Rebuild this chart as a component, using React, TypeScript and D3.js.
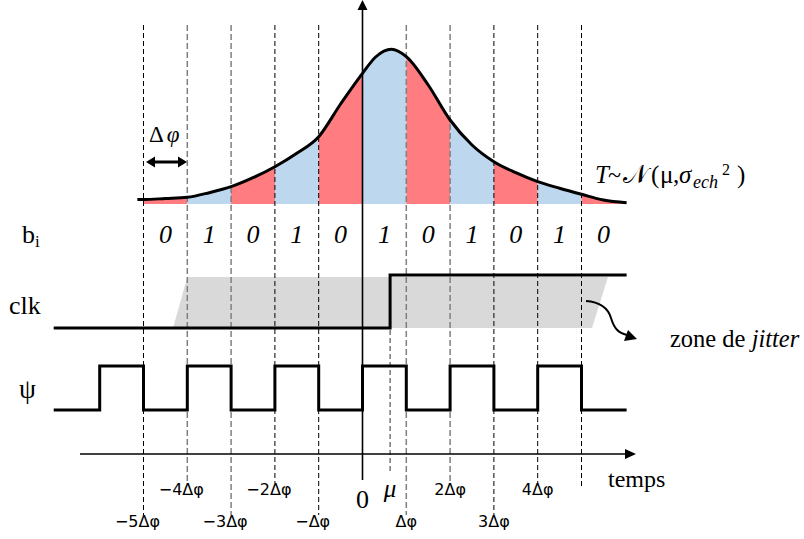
import React from 'react';
import * as d3 from 'd3';

// Density curve samples (t in units of Δφ, h = relative density height)
const densityT = [-5.14, -5, -4.5, -4, -3.5, -3, -2.5, -2, -1.5, -1, -0.5, 0, 0.3, 0.66, 1, 1.5, 2, 2.5, 3, 3.5, 4, 4.5, 5, 5.5, 6.03];
const densityH = [4.5, 4.5, 5.5, 6.7, 11.3, 17.3, 26.3, 37.3, 50.7, 67.3, 100, 130.7, 147, 154.7, 147.3, 119, 84, 59, 42.3, 31.3, 22.3, 15.7, 9.7, 4, 1.3];
// bits b_i per interval
const bitStarts = [-5, -4, -3, -2, -1, 0, 1, 2, 3, 4, 5];
const bits = [0, 1, 0, 1, 0, 1, 0, 1, 0, 1, 0];
// tick marks on the time axis
const tickKs = [-5, -4, -3, -2, -1, 1, 2, 3, 4, 5];
const tickLabels = ['−5Δφ', '−4Δφ', '−3Δφ', '−2Δφ', '−Δφ', 'Δφ', '2Δφ', '3Δφ', '4Δφ', ''];
// ψ signal
const psiT = [-7.05, -6, -5, -4, -3, -2, -1, 0, 1, 2, 3, 4, 5, 6.03];
const psiLevel = [0, 1, 0, 1, 0, 1, 0, 1, 0, 1, 0, 1, 0, 0];
// clk signal
const clkT = [-7.05, 0.63, 6.03];
const clkLevel = [0, 1, 1];
const mu = 0.63;
const tEnd = 6.03;

const RED = '#FF7C80';
const BLUE = '#BDD7EE';
const grayKs = [-4, -3, 1, 2];

export default function App() {
  const x = d3.scaleLinear().domain([-5, 5]).range([143.5, 581.5]);
  const base = 204;
  const y = d3.scaleLinear().domain([0, 155]).range([base, 49]);
  const yClk = d3.scaleLinear().domain([0, 1]).range([328, 275]);
  const yPsi = d3.scaleLinear().domain([0, 1]).range([410, 366]);

  const dens = densityT.map((t, i) => [t, densityH[i]] as [number, number]);
  const area = d3.area<[number, number]>().x(d => x(d[0])).y0(base).y1(d => y(d[1])).curve(d3.curveMonotoneX);
  const line = d3.line<[number, number]>().x(d => x(d[0])).y(d => y(d[1])).curve(d3.curveMonotoneX);
  const psiLine = d3.line<[number, number]>().x(d => x(d[0])).y(d => yPsi(d[1])).curve(d3.curveStepAfter);
  const clkLine = d3.line<[number, number]>().x(d => x(d[0])).y(d => yClk(d[1])).curve(d3.curveStepAfter);

  const x0 = x(0);
  const serif = 'Liberation Serif, Times New Roman, serif';
  const sans = 'DejaVu Sans, sans-serif';

  // jitter zone
  const jz = [[x(-4), 277], [608, 277], [592, 328], [173, 328]];

  return (
    <svg width={804} height={539} style={{ position: 'absolute', left: 0, top: 0, background: '#fff' }}>
      <defs>
        {bitStarts.map((a, i) => {
          const b = Math.min(a + 1, tEnd);
          return (
            <clipPath id={`band${i}`} key={i}>
              <rect x={x(a)} y={0} width={x(b) - x(a)} height={base} />
            </clipPath>
          );
        })}
      </defs>
      {/* bands */}
      {bitStarts.map((a, i) => (
        <path key={i} d={area(dens) || ''} fill={bits[i] ? BLUE : RED} clipPath={`url(#band${i})`} />
      ))}
      {/* jitter zone */}
      <polygon points={jz.map(p => p.join(',')).join(' ')} fill="#D9D9D9" />
      {/* dashed lines */}
      {tickKs.map((k, i) => {
        const gray = grayKs.includes(k);
        const end = tickLabels[i] === '' ? 487 : (Math.abs(k) % 2 === 1 ? 515 : 483);
        return (
          <line key={k} x1={x(k)} x2={x(k)} y1={25} y2={end}
            stroke={gray ? '#7F7F7F' : '#000'} strokeWidth={gray ? 1.5 : 1} strokeDasharray={gray ? '6,3' : '5,3'} />
        );
      })}
      <line x1={x(mu)} x2={x(mu)} y1={330} y2={472} stroke="#555" strokeWidth={1.2} strokeDasharray="5,3" />
      {/* curve */}
      <path d={line(dens) || ''} fill="none" stroke="#000" strokeWidth={3} />
      {/* signals */}
      <path d={clkLine(clkT.map((t, i) => [t, clkLevel[i]] as [number, number])) || ''} fill="none" stroke="#000" strokeWidth={3} />
      <path d={psiLine(psiT.map((t, i) => [t, psiLevel[i]] as [number, number])) || ''} fill="none" stroke="#000" strokeWidth={3} />
      {/* vertical axis */}
      <line x1={x0} x2={x0} y1={8} y2={480} stroke="#000" strokeWidth={1.6} />
      <polygon points={`${x0},0 ${x0 - 5},10 ${x0 + 5},10`} fill="#000" />
      {/* time axis */}
      <line x1={80} x2={627} y1={454} y2={454} stroke="#000" strokeWidth={1.6} />
      <polygon points={`636,454 625,449 625,459`} fill="#000" />
      {/* Δφ arrow */}
      <line x1={152} x2={181} y1={162} y2={162} stroke="#000" strokeWidth={3} />
      <polygon points={`146,162 155,156.5 155,167.5`} fill="#000" />
      <polygon points={`187,162 178,156.5 178,167.5`} fill="#000" />
      <text x={149} y={142} fontFamily={serif} fontSize={23}>Δ<tspan dx={3} fontStyle="italic">φ</tspan></text>
      {/* formula */}
      <g fontFamily={serif}>
        <text x={595} y={183} fontSize={25} fontStyle="italic">T</text>
        <text x={608} y={183} fontSize={25} textLength={13} lengthAdjust="spacingAndGlyphs">~</text>
        <text x={623} y={183} fontSize={26}>𝒩</text>
        <text x={651} y={183} fontSize={25}>(</text>
        <text x={660} y={183} fontSize={25}>μ</text>
        <text x={673} y={183} fontSize={25}>,</text>
        <text x={679} y={183} fontSize={25} fontStyle="italic">σ</text>
        <text x={693} y={188} fontSize={18} fontStyle="italic">ech</text>
        <text x={722} y={175} fontSize={16}>2</text>
        <text x={737} y={183} fontSize={25}>)</text>
      </g>
      {/* labels */}
      <text x={22} y={243} fontFamily={serif} fontSize={26}>b<tspan fontSize={17} dy={4}>i</tspan></text>
      <text x={9} y={314} fontFamily={serif} fontSize={26}>clk</text>
      <text x={19} y={398} fontFamily={serif} fontSize={27}>ψ</text>
      {bitStarts.map((a, i) => (
        <text key={i} x={x(a + 0.5)} y={243} textAnchor="middle" fontFamily={serif} fontStyle="italic" fontSize={26}>{bits[i]}</text>
      ))}
      <text x={670} y={347} fontFamily={serif} fontSize={24.5}>zone de <tspan fontStyle="italic">jitter</tspan></text>
      <path d="M586,301 C600,302 608,308 611,318 C614,328 618,333 627,335" fill="none" stroke="#000" strokeWidth={2} />
      <polygon points="637,339 624,341 628,330" fill="#000" />
      <text x={608} y={487} fontFamily={serif} fontSize={24}>temps</text>
      <text x={x0} y={508} textAnchor="middle" fontFamily={serif} fontSize={26}>0</text>
      <text x={x(mu)} y={497} textAnchor="middle" fontFamily={serif} fontStyle="italic" fontSize={25}>μ</text>
      {tickKs.map((k, i) => (
        <text key={k} x={x(k)} dx={k < 0 ? -6 : 0} y={Math.abs(k) % 2 === 1 ? 527 : 495} textAnchor="middle" fontFamily={sans} fontSize={16}>{tickLabels[i]}</text>
      ))}
    </svg>
  );
}
